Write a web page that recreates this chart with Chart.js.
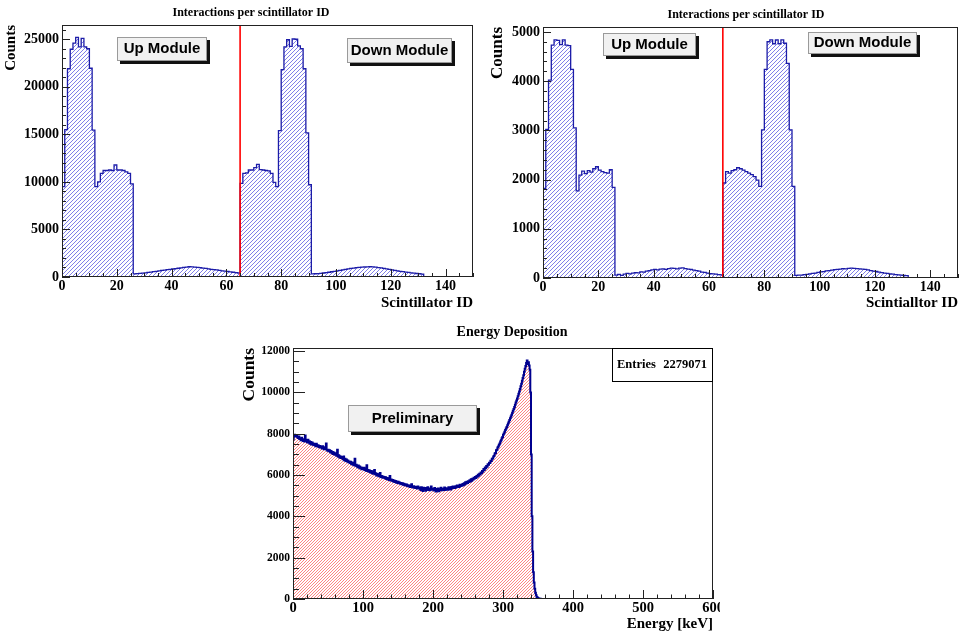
<!DOCTYPE html>
<html>
<head>
<meta charset="utf-8">
<script src="https://cdn.jsdelivr.net/npm/chart.js@4.4.1/dist/chart.umd.min.js"></script>
<style>
  html, body { margin: 0; padding: 0; background: #fff; }
  #page { position: relative; width: 965px; height: 633px; overflow: hidden; }
  canvas { position: absolute; }
  #c1 { left: 0; top: 0; }
  #c2 { left: 485px; top: 0; }
  #c3 { left: 240px; top: 318px; }
</style>
</head>
<body>
<div id="page">
  <canvas id="c1" width="482" height="312"></canvas>
  <canvas id="c2" width="480" height="312"></canvas>
  <canvas id="c3" width="480" height="315"></canvas>
</div>
<script>
var SERIF = '"Liberation Serif", "DejaVu Serif", serif';
var SANS = '"Liberation Sans", Arial, sans-serif';

// scintillator ID axis (one bin per ID), red line = boundary between modules
var scintIdMax = 150;
var moduleSplitId = 65;
var scintTicks = [0, 20, 40, 60, 80, 100, 120, 140];
var leftCountTicks = [0, 5000, 10000, 15000, 20000, 25000];
var rightCountTicks = [0, 1000, 2000, 3000, 4000, 5000];

// counts per scintillator ID, bins 0..131 (empty above)
var interactionsLeft = [
    9500, 15500, 21900, 23950, 24600, 25200, 24200, 25100, 24200, 24000,
    21950, 15450, 9500, 10000, 10900, 11200, 11200, 11250, 11200, 11800,
    11250, 11250, 11200, 11050, 10900, 9800,
    330, 350, 380, 410, 440, 480, 520, 560, 600, 640,
    690, 720, 770, 800, 840, 890, 920, 960, 1010, 1040,
    1080, 1060, 1040, 1010, 980, 930, 900, 860, 810, 780,
    740, 700, 650, 620, 580, 530, 500, 460, 420,
    9850, 10900, 10950, 11250, 11250, 11500, 11850, 11300, 11250, 11200,
    11150, 10900, 9950, 9500, 15400, 21800, 24200, 24950, 24250, 25050,
    25000, 24300, 24000, 21900, 15150, 9700,
    320, 340, 360, 390, 420, 460, 500, 550, 600, 650,
    700, 750, 800, 850, 900, 940, 980, 1010, 1040, 1050,
    1070, 1080, 1060, 1030, 990, 950, 900, 850, 800, 750,
    700, 650, 600, 560, 520, 480, 440, 400, 370, 340, 310
];

var interactionsRight = [
    1820, 3020, 4020, 4730, 4840, 4830, 4740, 4840, 4730, 4720,
    4240, 3050, 1770, 2090, 2170, 2120, 2180, 2150, 2220, 2260,
    2190, 2160, 2140, 2130, 2200, 1840,
    60, 75, 55, 80, 95, 85, 100, 110, 105, 125,
    120, 140, 150, 165, 175, 165, 180, 185, 175, 190,
    200, 195, 185, 200, 205, 190, 180, 175, 160, 150,
    140, 120, 115, 100, 90, 85, 80, 70, 65,
    1930, 2160, 2130, 2180, 2200, 2240, 2220, 2190, 2160, 2130,
    2100, 2060, 1990, 1860, 3010, 4240, 4800, 4840, 4760, 4840,
    4760, 4840, 4770, 4360, 3010, 1860,
    55, 60, 58, 70, 75, 85, 95, 100, 115, 125,
    130, 145, 150, 160, 170, 175, 180, 190, 185, 195,
    200, 195, 190, 185, 180, 175, 165, 150, 140, 135,
    120, 110, 100, 95, 85, 80, 70, 65, 60, 55, 50
];

// energy deposition, 1 keV bins from 0 keV
var energyMax = 600;
var energyEntries = 2279071;
var energyTicks = [0, 100, 200, 300, 400, 500, 600];
var energyCountTicks = [0, 2000, 4000, 6000, 8000, 10000, 12000];
var energyCounts = [
    7720, 7880, 7950, 7910, 7870, 7930, 7840, 7790, 7860, 7740,
    7760, 7690, 7810, 7700, 7650, 7730, 7620, 7920, 7680, 7640,
    7590, 7710, 7560, 7640, 7520, 7600, 7480, 7570, 7530, 7450,
    7510, 7440, 7390, 7520, 7460, 7380, 7430, 7350, 7410, 7330,
    7360, 7290, 7400, 7310, 7250, 7340, 7270, 7530, 7220, 7180,
    7230, 7150, 7200, 7100, 7170, 7060, 7120, 7020, 7090, 7000,
    6980, 7060, 6930, 7230, 6900, 6960, 6850, 6910, 6820, 6870,
    6830, 6760, 6900, 6720, 6790, 6680, 6750, 6650, 6700, 6620,
    6660, 6580, 6640, 6540, 6610, 6500, 6570, 6480, 6790, 6450,
    6500, 6420, 6380, 6460, 6350, 6410, 6320, 6370, 6280, 6340,
    6290, 6350, 6240, 6300, 6210, 6480, 6190, 6250, 6160, 6220,
    6140, 6200, 6100, 6180, 6060, 6130, 6250, 6040, 6090, 5980,
    6050, 5970, 6010, 5940, 6100, 5900, 5960, 5880, 5930, 5870,
    5910, 5840, 5890, 5810, 5860, 5790, 5830, 5760, 5950, 5740,
    5780, 5720, 5760, 5690, 5740, 5660, 5710, 5640, 5690, 5620,
    5670, 5600, 5640, 5580, 5620, 5560, 5600, 5530, 5580, 5510,
    5560, 5490, 5540, 5470, 5510, 5450, 5490, 5420, 5470, 5560,
    5440, 5400, 5460, 5390, 5430, 5370, 5420, 5350, 5440, 5380,
    5400, 5340, 5280, 5410, 5350, 5230, 5390, 5320, 5370, 5240,
    5360, 5300, 5410, 5280, 5350, 5260, 5330, 5450, 5290, 5340,
    5310, 5250, 5370, 5280, 5200, 5330, 5260, 5350, 5220, 5300,
    5270, 5380, 5310, 5260, 5340, 5290, 5400, 5280, 5360, 5310,
    5350, 5290, 5410, 5330, 5380, 5300, 5420, 5360, 5440, 5380,
    5430, 5370, 5460, 5410, 5500, 5440, 5480, 5420, 5530, 5470,
    5520, 5480, 5570, 5510, 5600, 5540, 5650, 5590, 5680, 5620,
    5700, 5660, 5750, 5690, 5800, 5730, 5820, 5780, 5870, 5830,
    5900, 5860, 5950, 5920, 6010, 5970, 6060, 6030, 6120, 6090,
    6200, 6160, 6290, 6250, 6360, 6330, 6440, 6400, 6520, 6500,
    6600, 6580, 6690, 6680, 6790, 6800, 6900, 6930, 7040, 7070,
    7200, 7230, 7330, 7380, 7470, 7530, 7620, 7690, 7780, 7840,
    7950, 8010, 8090, 8180, 8250, 8330, 8410, 8500, 8580, 8660,
    8750, 8830, 8920, 9010, 9110, 9200, 9300, 9400, 9510, 9610,
    9700, 9820, 9930, 10050, 10170, 10300, 10420, 10560, 10700, 10830,
    11000, 11150, 11280, 11420, 11550, 11380, 11460, 11300, 11100, 10000,
    7000, 4000, 2300, 1300, 800, 500, 300, 180, 100, 60,
    40, 25, 15, 10, 5, 2
];

function histogramPoints(counts, xMax) {
    var pts = [{x: 0, y: 0}];
    for (var i = 0; i < counts.length; i++) {
        pts.push({x: i, y: counts[i]});
    }
    pts.push({x: counts.length, y: 0});
    pts.push({x: xMax, y: 0});
    return pts;
}

// ROOT-like hatch: diagonal lines clipped to the area under the step line
var rootHatch = {
    id: "rootHatch",
    beforeDatasetsDraw: function (chart, args, o) {
        var ctx = chart.ctx, a = chart.chartArea;
        var pts = chart.getDatasetMeta(o.dataset).data;
        var base = chart.scales.y.getPixelForValue(0);
        ctx.save();
        ctx.beginPath();
        ctx.rect(a.left, a.top, a.right - a.left, a.bottom - a.top);
        ctx.clip();
        ctx.beginPath();
        ctx.moveTo(pts[0].x, base);
        ctx.lineTo(pts[0].x, pts[0].y);
        for (var i = 1; i < pts.length; i++) {
            ctx.lineTo(pts[i].x, pts[i - 1].y);
            ctx.lineTo(pts[i].x, pts[i].y);
        }
        ctx.lineTo(pts[pts.length - 1].x, base);
        ctx.closePath();
        ctx.clip();
        ctx.strokeStyle = o.color;
        ctx.lineWidth = 1;
        ctx.beginPath();
        var w = chart.width, hgt = chart.height;
        for (var c = o.phase; c < w + hgt; c += o.spacing) {
            ctx.moveTo(c, 0);
            ctx.lineTo(c - hgt, hgt);
        }
        ctx.stroke();
        ctx.restore();
    }
};

// ROOT-style frame, inward ticks, title, labels and stats box
var rootDecor = {
    id: "rootDecor",
    afterDraw: function (chart, args, o) {
        var ctx = chart.ctx, a = chart.chartArea;
        var xs = chart.scales.x, ys = chart.scales.y;
        ctx.save();
        ctx.strokeStyle = "#222";
        ctx.lineWidth = 1;
        ctx.beginPath();
        var n, v, p, len;
        for (n = 0; (v = xs.min + n * o.xMinor) <= xs.max + 1e-9; n++) {
            p = Math.round(xs.getPixelForValue(v)) + 0.5;
            len = (n % (o.xMajor / o.xMinor) === 0) ? o.xMajorLen : o.xMajorLen / 2;
            ctx.moveTo(p, a.bottom);
            ctx.lineTo(p, a.bottom - len);
        }
        for (n = 0; (v = ys.min + n * o.yMinor) <= ys.max + 1e-9; n++) {
            p = Math.round(ys.getPixelForValue(v)) + 0.5;
            len = (n % (o.yMajor / o.yMinor) === 0) ? o.yMajorLen : o.yMajorLen / 2;
            ctx.moveTo(a.left, p);
            ctx.lineTo(a.left + len, p);
        }
        ctx.stroke();
        ctx.strokeRect(Math.round(a.left) + 0.5, Math.round(a.top) + 0.5,
            Math.round(a.right - a.left) - 1, Math.round(a.bottom - a.top) - 1);

        ctx.fillStyle = "#000";
        ctx.textAlign = "center";
        ctx.textBaseline = "middle";
        ctx.font = "bold " + o.titleSize + "px " + SERIF;
        ctx.fillText(o.title, o.titleX, o.titleY);

        (o.labels || []).forEach(function (b) {
            ctx.fillStyle = "#111";
            ctx.fillRect(b.x + 3, b.y + 3, b.w, b.h);
            ctx.fillStyle = "#f1f1f1";
            ctx.fillRect(b.x, b.y, b.w, b.h);
            ctx.strokeStyle = "#9a9a9a";
            ctx.strokeRect(b.x + 0.5, b.y + 0.5, b.w - 1, b.h - 1);
            ctx.fillStyle = "#000";
            ctx.font = "bold 15px " + SANS;
            ctx.fillText(b.text, b.x + b.w / 2, b.y + b.h / 2);
        });

        if (o.stats) {
            var s = o.stats;
            ctx.fillStyle = "#fff";
            ctx.fillRect(s.x, s.y, s.w, s.h);
            ctx.strokeStyle = "#000";
            ctx.strokeRect(s.x + 0.5, s.y + 0.5, s.w - 1, s.h - 1);
            ctx.fillStyle = "#000";
            ctx.font = "bold 12.5px " + SERIF;
            ctx.textAlign = "left";
            ctx.fillText("Entries", s.x + 5, s.y + s.h / 2);
            ctx.textAlign = "right";
            ctx.fillText(String(s.value), s.x + s.w - 6, s.y + s.h / 2);
        }
        ctx.restore();
    }
};

function axisFont(size) {
    return {family: SERIF, weight: "bold", size: size};
}

function fixedTicks(values) {
    return function (scale) {
        scale.ticks = values.map(function (v) { return {value: v}; });
    };
}

function plainLabel(value) {
    return String(value);
}

function makeHistogram(canvasId, h) {
    var ctx = document.getElementById(canvasId).getContext("2d");
    var datasets = [];
    if (h.splitAt !== undefined) {
        datasets.push({
            data: [{x: h.splitAt, y: 0}, {x: h.splitAt, y: h.yMax}],
            borderColor: "#ff0000",
            backgroundColor: "#ff0000",
            borderWidth: 1.6,
            fill: false
        });
    }
    datasets.push({
        data: histogramPoints(h.counts, h.xMax),
        stepped: true,
        borderColor: h.lineColor,
        backgroundColor: h.lineColor,
        borderWidth: h.lineWidth,
        fill: false
    });

    return new Chart(ctx, {
        type: "line",
        data: {datasets: datasets},
        options: {
            responsive: false,
            animation: false,
            devicePixelRatio: 1,
            layout: {padding: {top: h.top, right: h.right, bottom: 0, left: 0}},
            elements: {point: {radius: 0, hitRadius: 0}, line: {tension: 0}},
            plugins: {
                legend: {display: false},
                tooltip: {enabled: false},
                colors: {enabled: false},
                rootHatch: {dataset: datasets.length - 1, color: h.hatchColor,
                    spacing: h.hatchSize, phase: h.hatchPhase},
                rootDecor: h.decor
            },
            scales: {
                x: {
                    type: "linear",
                    min: 0,
                    max: h.xMax,
                    grid: {display: false, drawTicks: false},
                    border: {display: false},
                    afterBuildTicks: fixedTicks(h.xTicks),
                    ticks: {autoSkip: false, maxRotation: 0, padding: 1, color: "#000",
                        font: axisFont(h.xTickSize), callback: plainLabel},
                    title: {display: true, text: h.xTitle, align: "end", color: "#000",
                        font: axisFont(15), padding: {top: 0, bottom: 0}},
                    afterFit: function (s) { s.height = h.bottom; s.paddingLeft = 0; s.paddingRight = 0; }
                },
                y: {
                    type: "linear",
                    min: 0,
                    max: h.yMax,
                    grid: {display: false, drawTicks: false},
                    border: {display: false},
                    afterBuildTicks: fixedTicks(h.yTicks),
                    ticks: {autoSkip: false, padding: 3, color: "#000",
                        font: axisFont(h.yTickSize), callback: plainLabel},
                    title: {display: true, text: "Counts", align: "end", color: "#000",
                        font: {family: SERIF, weight: "bold", size: h.yTitleSize, lineHeight: 1},
                        padding: {top: h.yTitlePad, bottom: 0}},
                    afterFit: function (s) { s.width = h.left; s.paddingTop = 0; s.paddingBottom = 0; }
                }
            }
        },
        plugins: [rootHatch, rootDecor]
    });
}

makeHistogram("c1", {
    counts: interactionsLeft, xMax: scintIdMax, yMax: 26500, splitAt: moduleSplitId,
    xTicks: scintTicks, yTicks: leftCountTicks, xTitle: "Scintillator ID",
    xTickSize: 14, yTickSize: 14, yTitleSize: 15, yTitlePad: 4,
    top: 25, right: 9, bottom: 35, left: 62,
    lineColor: "#1c1ca8", lineWidth: 1.3, hatchColor: "#8080e8", hatchSize: 4, hatchPhase: 1,
    decor: {
        title: "Interactions per scintillator ID", titleX: 251, titleY: 12.5, titleSize: 12,
        xMinor: 5, xMajor: 20, xMajorLen: 8, yMinor: 1000, yMajor: 5000, yMajorLen: 8,
        labels: [
            {text: "Up Module", x: 117, y: 37, w: 90, h: 24},
            {text: "Down Module", x: 347, y: 38, w: 105, h: 25}
        ]
    }
});

makeHistogram("c2", {
    counts: interactionsRight, xMax: scintIdMax, yMax: 5100, splitAt: moduleSplitId,
    xTicks: scintTicks, yTicks: rightCountTicks, xTitle: "Scintialltor ID",
    xTickSize: 14, yTickSize: 14, yTitleSize: 17, yTitlePad: 4.5,
    top: 27, right: 7, bottom: 34, left: 58,
    lineColor: "#1c1ca8", lineWidth: 1.3, hatchColor: "#8080e8", hatchSize: 4, hatchPhase: 0,
    decor: {
        title: "Interactions per scintillator ID", titleX: 261, titleY: 14.5, titleSize: 12,
        xMinor: 5, xMajor: 20, xMajorLen: 8, yMinor: 200, yMajor: 1000, yMajorLen: 8,
        labels: [
            {text: "Up Module", x: 118, y: 33, w: 93, h: 23},
            {text: "Down Module", x: 323, y: 32, w: 109, h: 22}
        ]
    }
});

makeHistogram("c3", {
    counts: energyCounts, xMax: energyMax, yMax: 12150,
    xTicks: energyTicks, yTicks: energyCountTicks, xTitle: "Energy [keV]",
    xTickSize: 14.5, yTickSize: 11.5, yTitleSize: 17.5, yTitlePad: 0.5,
    top: 30, right: 7, bottom: 34, left: 53,
    lineColor: "#00008f", lineWidth: 2, hatchColor: "rgba(255,50,50,0.6)", hatchSize: 3, hatchPhase: 0,
    decor: {
        title: "Energy Deposition", titleX: 272, titleY: 14.5, titleSize: 14,
        xMinor: 20, xMajor: 100, xMajorLen: 9, yMinor: 500, yMajor: 2000, yMajorLen: 12,
        labels: [
            {text: "Preliminary", x: 108, y: 87, w: 129, h: 27}
        ],
        stats: {x: 372, y: 30, w: 101, h: 34, value: energyEntries}
    }
});
</script>
</body>
</html>
